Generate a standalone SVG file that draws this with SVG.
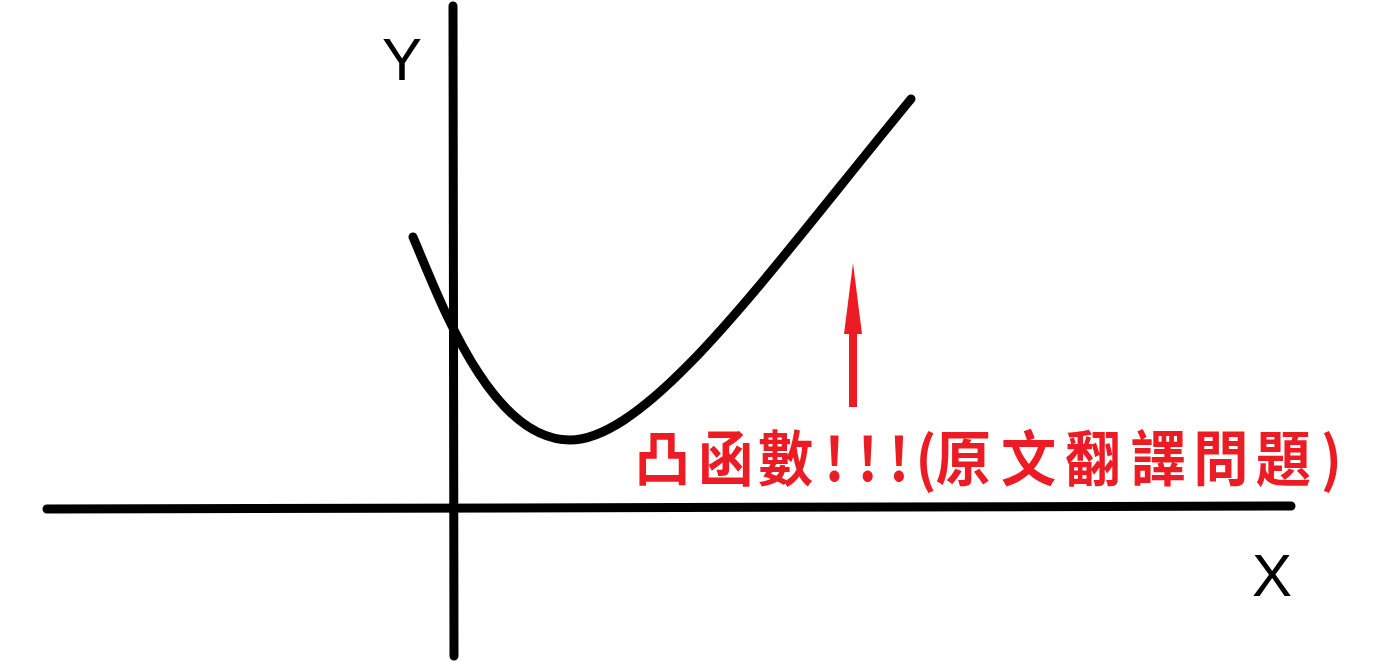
<svg xmlns="http://www.w3.org/2000/svg" width="1377" height="662" viewBox="0 0 1377 662">
<style>
.axis{stroke:#000;stroke-width:9;stroke-linecap:round;fill:none}
.curve{stroke:#000;stroke-width:9;stroke-linecap:round;fill:none}
.lbl{font-family:"Liberation Sans",Arial,sans-serif;font-size:60px;fill:#000;text-anchor:middle}
.note{font-family:"Noto Sans CJK TC","Noto Sans CJK SC",sans-serif;font-weight:bold;font-size:60px;fill:#ed1c24}
</style>
<rect width="1377" height="662" fill="#fff"/>
<g id="connectors">
<line id="x-axis" class="axis" x1="47" y1="509" x2="1291" y2="506"/>
<line id="y-axis" class="axis" x1="453" y1="6" x2="454" y2="656"/>
<path id="convex-curve" class="curve" d="M413,237 C440,300 490,440 570,440 C650,440 770,270 911,99"/>
<g id="arrow" fill="#ed1c24">
<rect x="849" y="333" width="8" height="74"/>
<polygon points="844,334 862,334 853,263"/>
</g>
</g>
<g id="label-y"><text class="lbl" x="402" y="80">Y</text></g>
<g id="label-x"><text class="lbl" x="1272" y="596">X</text></g>
<g id="note" transform="scale(0.92,1)"><text class="note" y="481" x="690 759 824 896 932 966 995 1017 1088 1158 1229 1297 1365 1436">凸函數!!!(原文翻譯問題)</text></g>
</svg>
